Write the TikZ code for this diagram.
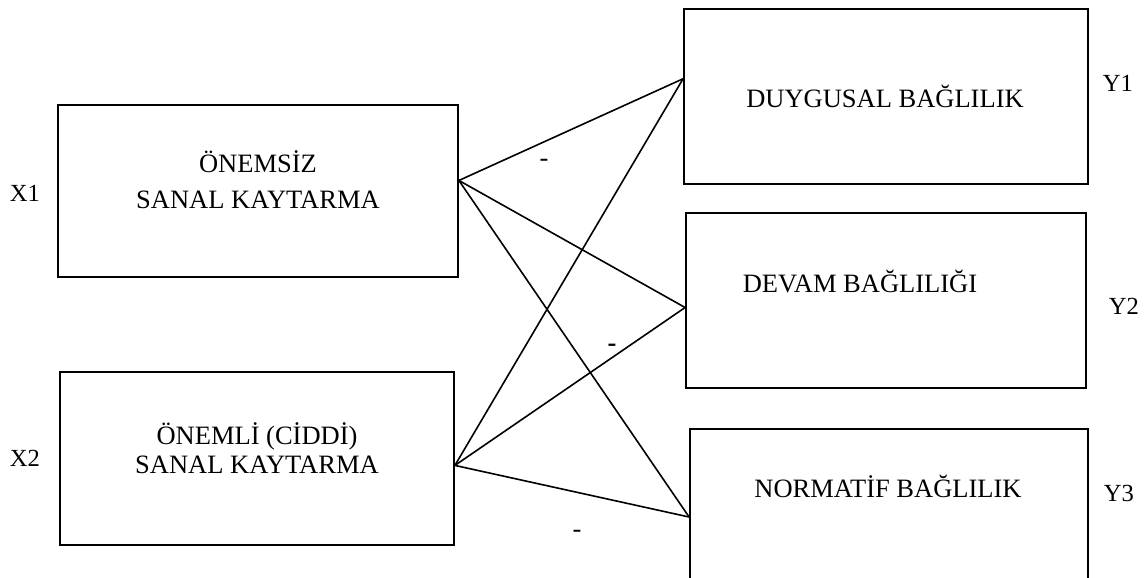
\documentclass[tikz,border=0pt]{standalone}
\usepackage{fontspec}
\setmainfont{Liberation Serif}

\begin{document}
\begin{tikzpicture}[x=0.5pt,y=-0.5pt,
  box/.style={draw=black,line width=0.9pt,inner sep=0pt},
  txt/.style={align=center,inner sep=0pt,font=\fontsize{13.25}{18}\selectfont},
  tag/.style={inner sep=0pt,font=\fontsize{12.3}{15}\selectfont},
  sign/.style={inner sep=0pt,font=\fontsize{13.25}{15}\selectfont},
  link/.style={black,line width=0.8pt}]
\useasboundingbox (0,0) rectangle (1146,578);
% left side
\node[box,minimum width=200pt,minimum height=86pt] (x1) at (258,191) {};
\node[box,minimum width=197pt,minimum height=86.5pt] (x2) at (257,458.5) {};
\node[txt] (x1t) at (258,179.6) {ÖNEMSİZ\\SANAL KAYTARMA};
\node[txt,font=\fontsize{13.25}{14.5}\selectfont] (x2t) at (257,448) {ÖNEMLİ (CİDDİ)\\SANAL KAYTARMA};
\node[tag,anchor=base] (x1l) at (25,201) {X1};
\node[tag,anchor=base] (x2l) at (25,466) {X2};
% right side
\node[box,minimum width=202pt,minimum height=87.5pt] (y1) at (886,96.5) {};
\node[box,minimum width=200pt,minimum height=87.5pt] (y2) at (886,300.5) {};
\node[box,minimum width=199pt,minimum height=88pt] (y3) at (889,517) {};
\node[txt,anchor=base] (y1t) at (885,107) {DUYGUSAL BAĞLILIK};
\node[txt,anchor=base] (y2t) at (860,292) {DEVAM BAĞLILIĞI};
\node[txt,anchor=base] (y3t) at (888,497) {NORMATİF BAĞLILIK};
\node[tag,anchor=base] (y1l) at (1118,91) {Y1};
\node[tag,anchor=base] (y2l) at (1124,314) {Y2};
\node[tag,anchor=base] (y3l) at (1119,501) {Y3};
% paths
\draw[link] (x1.3.4) -- (y1.175.3);
\draw[link] (x1.3.4) -- (y2.182.4);
\draw[link] (x1.3.4) -- (y3.west);
\draw[link] (x2.-2.8) -- (y1.175.3);
\draw[link] (x2.-2.8) -- (y2.182.4);
\draw[link] (x2.-2.8) -- (y3.west);
\node[sign,anchor=base] (s1) at (544,166) {-};
\node[sign,anchor=base] (s2) at (612,351) {\textbf{-}};
\node[sign,anchor=base] (s3) at (577,537) {-};
\end{tikzpicture}
\end{document}
